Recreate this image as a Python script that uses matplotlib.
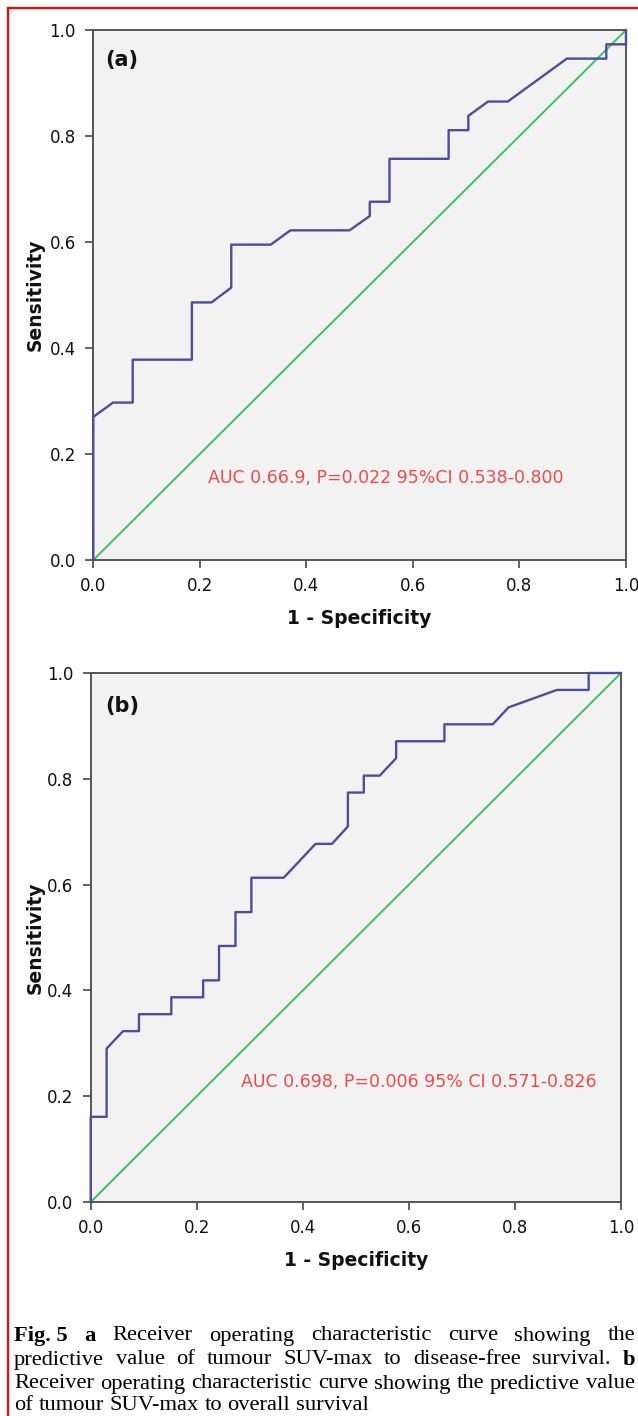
import matplotlib
matplotlib.use("Agg")
import matplotlib.pyplot as plt
from matplotlib.lines import Line2D

# ROC curve (a): disease-free survival
fpr_a = [0.0, 0.0, 0.037, 0.074, 0.074, 0.185, 0.185, 0.222, 0.259, 0.259,
         0.333, 0.370, 0.481, 0.519, 0.519, 0.556, 0.556, 0.667, 0.667, 0.704,
         0.704, 0.741, 0.778, 0.889, 0.963, 0.963, 1.0, 1.0]
tpr_a = [0.0, 0.270, 0.297, 0.297, 0.378, 0.378, 0.486, 0.486, 0.514, 0.595,
         0.595, 0.622, 0.622, 0.649, 0.676, 0.676, 0.757, 0.757, 0.811, 0.811,
         0.838, 0.865, 0.865, 0.946, 0.946, 0.973, 0.973, 1.0]
auc_a = "AUC 0.66.9, P=0.022 95%CI 0.538-0.800"

# ROC curve (b): overall survival
fpr_b = [0.0, 0.0, 0.030, 0.030, 0.061, 0.091, 0.091, 0.152, 0.152, 0.212,
         0.212, 0.242, 0.242, 0.273, 0.273, 0.303, 0.303, 0.364, 0.424, 0.455,
         0.485, 0.485, 0.515, 0.515, 0.545, 0.576, 0.576, 0.667, 0.667, 0.758,
         0.788, 0.879, 0.939, 0.939, 1.0]
tpr_b = [0.0, 0.161, 0.161, 0.290, 0.323, 0.323, 0.355, 0.355, 0.387, 0.387,
         0.419, 0.419, 0.484, 0.484, 0.548, 0.548, 0.613, 0.613, 0.677, 0.677,
         0.710, 0.774, 0.774, 0.806, 0.806, 0.839, 0.871, 0.871, 0.903, 0.903,
         0.935, 0.968, 0.968, 1.0, 1.0]
auc_b = "AUC 0.698, P=0.006 95% CI 0.571-0.826"

ref_line = [0.0, 1.0]
ticks = [0.0, 0.2, 0.4, 0.6, 0.8, 1.0]
tick_labels = ["0.0", "0.2", "0.4", "0.6", "0.8", "1.0"]

caption_lines = [
    "**Fig.\u00a05** **a** Receiver operating characteristic curve showing the",
    "predictive value of tumour SUV-max to disease-free survival. **b**",
    "Receiver operating characteristic curve showing the predictive value",
    "of tumour SUV-max to overall survival",
]

W, H = 638, 1416
fig = plt.figure(figsize=(W / 100, H / 100), dpi=100)


def axes_px(left, top, right, bottom):
    return fig.add_axes([left / W, 1 - bottom / H, (right - left) / W, (bottom - top) / H])


panels = [
    (axes_px(93.3, 30, 626, 560), fpr_a, tpr_a, "(a)", auc_a, (0.215, 0.155), (0.022, 0.943)),
    (axes_px(90.7, 673, 621, 1202), fpr_b, tpr_b, "(b)", auc_b, (0.284, 0.227), (0.027, 0.937)),
]

for ax, fpr, tpr, tag, auc, auc_pos, tag_pos in panels:
    ax.set_facecolor("#f2f2f2")
    ax.plot(ref_line, ref_line, color="#3ec05c", lw=1.4, zorder=2)
    ax.plot(fpr, tpr, color="#4a4e9c", lw=1.7, zorder=3, clip_on=False)
    ax.set_xlim(0, 1)
    ax.set_ylim(0, 1)
    ax.set_xticks(ticks)
    ax.set_yticks(ticks)
    ax.set_xticklabels(tick_labels)
    ax.set_yticklabels(tick_labels)
    ax.tick_params(direction="out", length=6, width=1.3, color="#555555",
                   labelsize=12, labelcolor="#111111", pad=6.5)
    for s in ax.spines.values():
        s.set_color("#555555")
        s.set_linewidth(1.4)
    ax.set_xlabel("1 - Specificity", fontsize=13.5, fontweight="bold", color="#111111")
    ax.set_ylabel("Sensitivity", fontsize=13.5, fontweight="bold", color="#111111")
    bb = ax.get_position()
    ax.xaxis.set_label_coords(0.5, -58 / (bb.height * H))
    ax.xaxis.label.set_va("center")
    ax.yaxis.set_label_coords((35 - bb.x0 * W) / (bb.width * W), 0.5)
    ax.yaxis.label.set_va("center")
    ax.text(tag_pos[0], tag_pos[1], tag, transform=ax.transAxes, fontsize=15,
            fontweight="bold", va="center", ha="left", color="#111111")
    ax.text(auc_pos[0], auc_pos[1], auc, transform=ax.transAxes, fontsize=12.5,
            color="#ef4a4a", va="center", ha="left")

# red frame on the left and top
fig.add_artist(Line2D([8 / W, 8 / W], [0, 1 - 8 / H], color="red", lw=1.6,
                      transform=fig.transFigure))
fig.add_artist(Line2D([8 / W, 1], [1 - 8 / H, 1 - 8 / H], color="red", lw=1.6,
                      transform=fig.transFigure))

# justified caption
renderer = fig.canvas.get_renderer()
cap_left, cap_right = 14, 635
cap_y = [1336, 1360, 1384, 1406]
cap_size = 16.2
for i, line in enumerate(caption_lines):
    objs = []
    for w in line.split(" "):
        bold = w.startswith("**")
        t = fig.text(0, 1 - cap_y[i] / H, w.strip("*"), fontsize=cap_size,
                     family="Liberation Serif", fontweight="bold" if bold else "normal",
                     va="center", ha="left", color="black")
        objs.append(t)
    widths = [t.get_window_extent(renderer).width for t in objs]
    if i < len(caption_lines) - 1:
        gap = (cap_right - cap_left - sum(widths)) / (len(objs) - 1)
    else:
        gap = cap_size * 100 / 72 * 0.25
    x = cap_left
    for t, wd in zip(objs, widths):
        t.set_x(x / W)
        x += wd + gap

fig.savefig("out.png", dpi=100)
